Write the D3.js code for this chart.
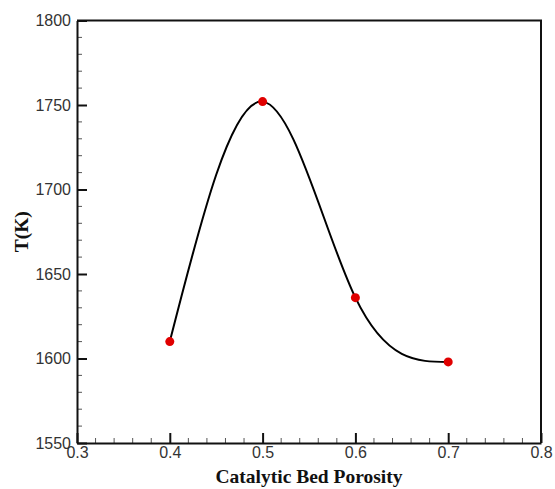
<!DOCTYPE html>
<html>
<head>
<meta charset="utf-8">
<script src="https://cdn.jsdelivr.net/npm/d3@7"></script>
<style>
  body { margin: 0; background: #fff; }
  .label { font-family: "Liberation Serif", "Times New Roman", serif; font-size: 19.5px; font-weight: bold; fill: #111; }
</style>
</head>
<body>
<svg></svg>
<script>
var porosity = [0.4, 0.5, 0.6, 0.7];
var temperature = [1610, 1752, 1636, 1598];
var xTicks = [0.3, 0.4, 0.5, 0.6, 0.7, 0.8];
var yTicks = [1550, 1600, 1650, 1700, 1750, 1800];

var width = 555, height = 489;
var padding = { top: 20.5, right: 14, bottom: 46, left: 77 };

var svg = d3.select("svg")
  .attr("width", width)
  .attr("height", height);

var xScale = d3.scaleLinear()
  .domain([0.3, 0.8])
  .range([padding.left, width - padding.right]);

var yScale = d3.scaleLinear()
  .domain([1550, 1800])
  .range([height - padding.bottom, padding.top]);

var data = porosity.map((p, i) => ({ x: p, y: temperature[i] }));

// minor ticks (inside)
var xMinor = d3.range(0.3, 0.8001, 0.02).filter(v => Math.abs(v * 10 - Math.round(v * 10)) > 1e-6);
var yMinor = d3.range(1550, 1800.1, 10).filter(v => v % 50 !== 0);

svg.append("g")
  .attr("transform", "translate(0," + (height - padding.bottom) + ")")
  .selectAll("line").data(xMinor).enter().append("line")
  .attr("x1", d => xScale(d)).attr("x2", d => xScale(d))
  .attr("y1", 0).attr("y2", -5)
  .attr("stroke", "#555").attr("stroke-width", 1);

svg.append("g")
  .attr("transform", "translate(" + padding.left + ",0)")
  .selectAll("line").data(yMinor).enter().append("line")
  .attr("y1", d => yScale(d)).attr("y2", d => yScale(d))
  .attr("x1", 0).attr("x2", 5)
  .attr("stroke", "#555").attr("stroke-width", 1);

// axes
var xAxis = svg.append("g")
  .attr("transform", "translate(0," + (height - padding.bottom) + ")")
  .call(d3.axisBottom(xScale).tickValues(xTicks).tickFormat(d3.format(".1f"))
    .tickSizeInner(-10).tickSizeOuter(0).tickPadding(4));

var yAxis = svg.append("g")
  .attr("transform", "translate(" + padding.left + ",0)")
  .call(d3.axisLeft(yScale).tickValues(yTicks).tickFormat(d3.format("d"))
    .tickSizeInner(-10).tickSizeOuter(0).tickPadding(6));

svg.selectAll(".domain").attr("stroke", "#111").attr("stroke-width", 2);
svg.selectAll(".tick line").attr("stroke", "#111").attr("stroke-width", 2);
svg.selectAll(".tick text")
  .attr("font-family", "'Liberation Sans', Arial, sans-serif")
  .attr("font-size", 16)
  .attr("fill", "#333");

// frame top / right
svg.append("path")
  .attr("d", "M" + padding.left + "," + padding.top + "H" + (width - padding.right) + "V" + (height - padding.bottom))
  .attr("fill", "none").attr("stroke", "#111").attr("stroke-width", 2);

// labels
svg.append("text")
  .classed("label", true)
  .attr("text-anchor", "middle")
  .attr("x", (padding.left + width - padding.right) / 2)
  .attr("y", height - 6)
  .text("Catalytic Bed Porosity");

svg.append("text")
  .classed("label", true)
  .attr("text-anchor", "middle")
  .attr("transform", "translate(28," + ((padding.top + height - padding.bottom) / 2) + ") rotate(-90)")
  .text("T(K)");

// curve
var line = d3.line()
  .x(d => xScale(d.x))
  .y(d => yScale(d.y))
  .curve(d3.curveNatural);

svg.append("path")
  .datum(data)
  .attr("d", line)
  .attr("fill", "none")
  .attr("stroke", "#000")
  .attr("stroke-width", 2);

svg.selectAll("circle")
  .data(data)
  .enter()
  .append("circle")
    .attr("r", 4.5)
    .attr("cx", d => xScale(d.x))
    .attr("cy", d => yScale(d.y))
    .attr("fill", "#e00000");
</script>
</body>
</html>
